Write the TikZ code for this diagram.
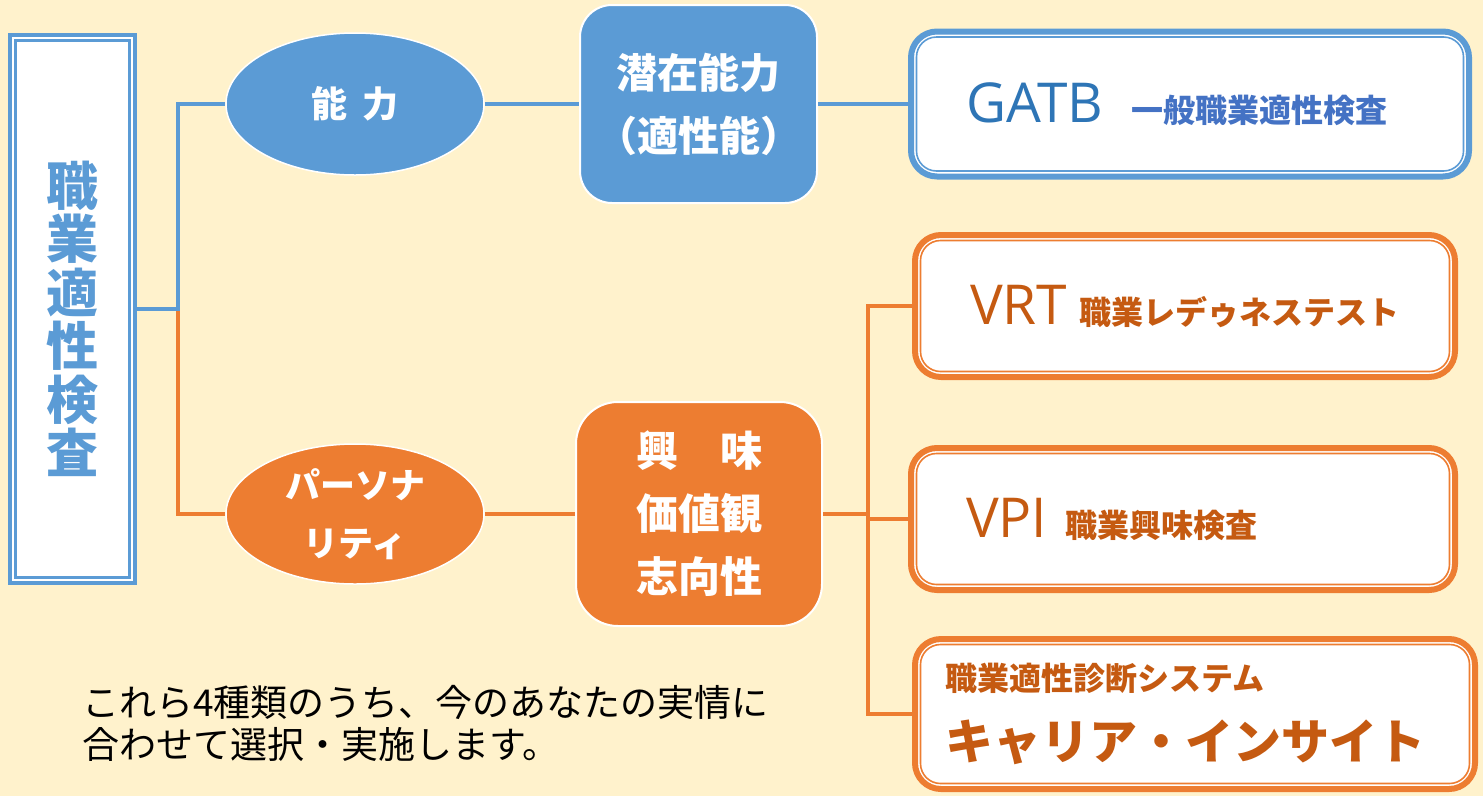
\documentclass[tikz,border=0pt]{standalone}
\usepackage{fontspec}
\setmainfont{Noto Sans CJK JP}
\newfontfamily\latinfont{Open Sans}
\usetikzlibrary{shapes.geometric}

\definecolor{bgcream}{HTML}{FFF2CC}
\definecolor{kblue}{HTML}{5B9BD5}
\definecolor{korange}{HTML}{ED7D31}
\definecolor{tblue}{HTML}{2E75B6}
\definecolor{sblue}{HTML}{4472C4}
\definecolor{torange}{HTML}{C55A11}

\tikzset{
  bline/.style={kblue, line width=4.5pt},
  oline/.style={korange, line width=4.5pt},
  blob/.style={ellipse, draw=white, line width=1.5pt, text=white, align=center,
    minimum width=258pt, minimum height=141pt, inner sep=0pt},
  core/.style={rectangle, draw=white, line width=2pt, text=white, align=center, inner sep=0pt},
  testbox/.style={rectangle, rounded corners=26pt, draw=#1, line width=6pt, fill=white,
    inner ysep=0pt, align=left},
  inring/.style={#1, line width=1.6pt, rounded corners=20pt},
}

\begin{document}
\begin{tikzpicture}[x=1pt, y=-1pt]

\useasboundingbox (0,0) rectangle (1483,796);
\fill[bgcream] (0,0) rectangle (1483,796);

% 左の枠
\node[draw=kblue, line width=3.4pt, fill=white, minimum width=125pt, minimum height=548pt,
  inner sep=0pt, align=center, text=kblue, font=\bfseries\fontsize{52}{53.4}\selectfont]
  (shokugyo) at (72.5,309) {\rule{0pt}{64pt}職\\業\\適\\性\\検\\査};
\draw[kblue, line width=2.6pt] ([shift={(7,-7)}]shokugyo.south west) rectangle ([shift={(-7,7)}]shokugyo.north east);

% 能力
\node[blob, fill=kblue, minimum height=142pt, font=\bfseries\fontsize{36}{40}\selectfont]
  (noryoku) at (355,104) {能\hspace{16pt}力};
\node[core, fill=kblue, rounded corners=32pt, minimum width=237pt, minimum height=198pt,
  font=\bfseries\fontsize{41}{63}\selectfont]
  (senzai) at (698.5,104) {潜在能力\\（適性能）};

% パーソナリティ
\node[blob, fill=korange, minimum height=140pt, font=\bfseries\fontsize{35}{58}\selectfont]
  (person) at (355,514) {パーソナ\\リティ};
\node[core, fill=korange, rounded corners=42pt, minimum width=246pt, minimum height=224pt,
  font=\bfseries\fontsize{42}{63}\selectfont]
  (kyomi) at (699,514) {興　味\\価値観\\志向性};

% 検査
\node[testbox=kblue, text width=448pt, inner xsep=55pt, minimum height=145pt]
  (gatb) at (1190,104) {{\latinfont\fontsize{55}{60}\selectfont\color{tblue}GATB}\hspace{28pt}{\bfseries\fontsize{32}{36}\selectfont\color{sblue}一般職業適性検査}};
\node[testbox=korange, text width=430pt, inner xsep=55pt, minimum height=142pt]
  (vrt) at (1185,306) {{\latinfont\fontsize{55}{60}\selectfont\color{torange}VRT}\hspace{12pt}{\bfseries\fontsize{32}{36}\selectfont\color{torange}職業レデゥネステスト}};
\node[testbox=korange, text width=434pt, inner xsep=55pt, minimum height=142pt]
  (vpi) at (1183,519) {{\latinfont\fontsize{55}{60}\selectfont\color{torange}VPI}\hspace{18pt}{\bfseries\fontsize{32}{36}\selectfont\color{torange}職業興味検査}};
\node[testbox=korange, text width=500pt, inner xsep=30pt, minimum height=150pt, text=torange]
  (career) at (1195,714) {{\bfseries\fontsize{32}{36}\selectfont 職業適性診断システム}\\[26pt]{\bfseries\fontsize{48}{54}\selectfont キャリア・インサイト}};
\draw[inring=kblue] ([shift={(8.5,-8.5)}]gatb.south west) rectangle ([shift={(-8.5,8.5)}]gatb.north east);
\draw[inring=korange] ([shift={(8.5,-8.5)}]vrt.south west) rectangle ([shift={(-8.5,8.5)}]vrt.north east);
\draw[inring=korange] ([shift={(8.5,-8.5)}]vpi.south west) rectangle ([shift={(-8.5,8.5)}]vpi.north east);
\draw[inring=korange] ([shift={(8.5,-8.5)}]career.south west) rectangle ([shift={(-8.5,8.5)}]career.north east);

% 説明
\node[anchor=west, align=left, inner sep=0pt, font=\fontsize{37}{42}\selectfont]
  (note) at (82,723) {これら4種類のうち、今のあなたの実情に\\合わせて選択・実施します。};

% つなぐ線
\coordinate (fork) at (178,309);
\coordinate (ojoint) at (868,514);
\draw[oline] (fork) |- (person.west);
\draw[bline] (shokugyo.east) -- (fork) |- (noryoku.west);
\draw[bline] (noryoku.east) -- (senzai.west);
\draw[bline] (senzai.east) -- (gatb.west);
\draw[oline] (person.east) -- (kyomi.west);
\draw[oline] (kyomi.east) -- (ojoint);
\draw[oline] (vrt.west) -| (ojoint) |- (career.west);
\draw[oline] (ojoint) |- (vpi.west);

\end{tikzpicture}
\end{document}
